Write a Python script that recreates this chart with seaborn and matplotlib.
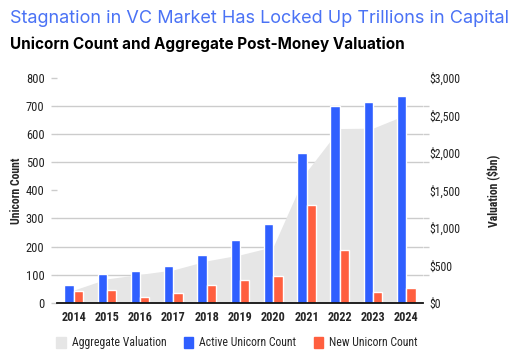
import numpy as np
import pandas as pd
import seaborn as sns
from matplotlib import pyplot as plt
from matplotlib.patches import Patch
from matplotlib.ticker import MultipleLocator, FuncFormatter

# Values
years = ['2014', '2015', '2016', '2017', '2018', '2019', '2020', '2021', '2022', '2023', '2024']
active_unicorns = [62, 101, 112, 130, 169, 223, 279, 534, 700, 713, 737]
new_unicorns = [41, 46, 21, 34, 64, 82, 96, 347, 189, 40, 53]
valuation_bn = [170, 320, 380, 440, 560, 640, 750, 1750, 2325, 2330, 2510]

BLUE = '#2f5fff'
ORANGE = '#ff5f3f'
GREY = '#e6e6e6'

df = pd.DataFrame({
    'year': years * 2,
    'count': active_unicorns + new_unicorns,
    'series': ['Active Unicorn Count'] * len(years) + ['New Unicorn Count'] * len(years),
})

sns.set_theme(style='white')
plt.rcParams['font.family'] = ['Roboto Condensed', 'Roboto', 'DejaVu Sans']

fig = plt.figure(figsize=(5.28, 3.64), dpi=100)
ax = fig.add_axes([0.108, 0.168, 0.693, 0.618])
ax2 = ax.twinx()
ax.set_zorder(2)
ax.patch.set_visible(False)
ax2.set_zorder(1)

# area of aggregate valuation on the right axis, behind the bars
xpos = np.arange(len(years))
ax2.fill_between(xpos, valuation_bn, color=GREY, lw=0, zorder=2)
ax2.set_ylim(0, 3000)
ax2.yaxis.set_major_locator(MultipleLocator(500))
ax2.yaxis.set_minor_locator(MultipleLocator(375))
ax2.yaxis.set_major_formatter(FuncFormatter(lambda v, p: f'${v:,.0f}'))
ax2.grid(which='minor', axis='y', color='#cccccc', lw=1, zorder=0)
ax2.grid(which='major', visible=False)
ax2.set_axisbelow(True)
ax2.tick_params(axis='y', which='major', length=0, labelsize=8.5, colors='#222222', pad=5)
ax2.tick_params(axis='y', which='minor', length=4, color='#cccccc', width=1, right=True)
ax2.set_ylabel('Valuation ($bn)', fontsize=8.5, fontweight='bold')
ax2.yaxis.set_label_coords(1.172, 0.5)

sns.barplot(data=df, x='year', y='count', hue='series', order=years,
            palette=[BLUE, ORANGE], width=0.56, gap=0, saturation=1, ax=ax, legend=False)
ax.set_ylim(0, 800)
ax.set_xlim(-0.5, len(years) - 0.5)
ax.yaxis.set_major_locator(MultipleLocator(100))
ax.set_xlabel('')
ax.set_ylabel('Unicorn Count', fontsize=8.5, fontweight='bold')
ax.yaxis.set_label_coords(-0.094, 0.5)
ax.tick_params(axis='y', length=4, color='#cccccc', width=1, left=True, labelsize=9,
               labelcolor='#222222', pad=5)
ax.tick_params(axis='x', length=0, labelsize=8.8, pad=6)
for lbl in ax.get_xticklabels():
    lbl.set_fontweight('bold')

for a in (ax, ax2):
    for s in ('top', 'left', 'right'):
        a.spines[s].set_visible(False)
ax.spines['bottom'].set_color('#111111')
ax.spines['bottom'].set_linewidth(1.3)
ax2.spines['bottom'].set_visible(False)

fig.text(0.019, 0.95, 'Stagnation in VC Market Has Locked Up Trillions in Capital',
         color='#4a72f5', fontsize=13, family=['Inter', 'DejaVu Sans'], va='center')
fig.text(0.019, 0.878, 'Unicorn Count and Aggregate Post-Money Valuation',
         color='black', fontsize=11, fontweight='bold', family=['Inter', 'DejaVu Sans'], va='center')

handles = [Patch(color=GREY, label='Aggregate Valuation'),
           Patch(color=BLUE, label='Active Unicorn Count'),
           Patch(color=ORANGE, label='New Unicorn Count')]
fig.legend(handles=handles, loc='center', bbox_to_anchor=(0.449, 0.058), ncol=3, frameon=False,
           fontsize=8.5, handlelength=0.8, handleheight=1.0, handletextpad=0.5, columnspacing=1.5)

fig.savefig('out.png', dpi=100)
